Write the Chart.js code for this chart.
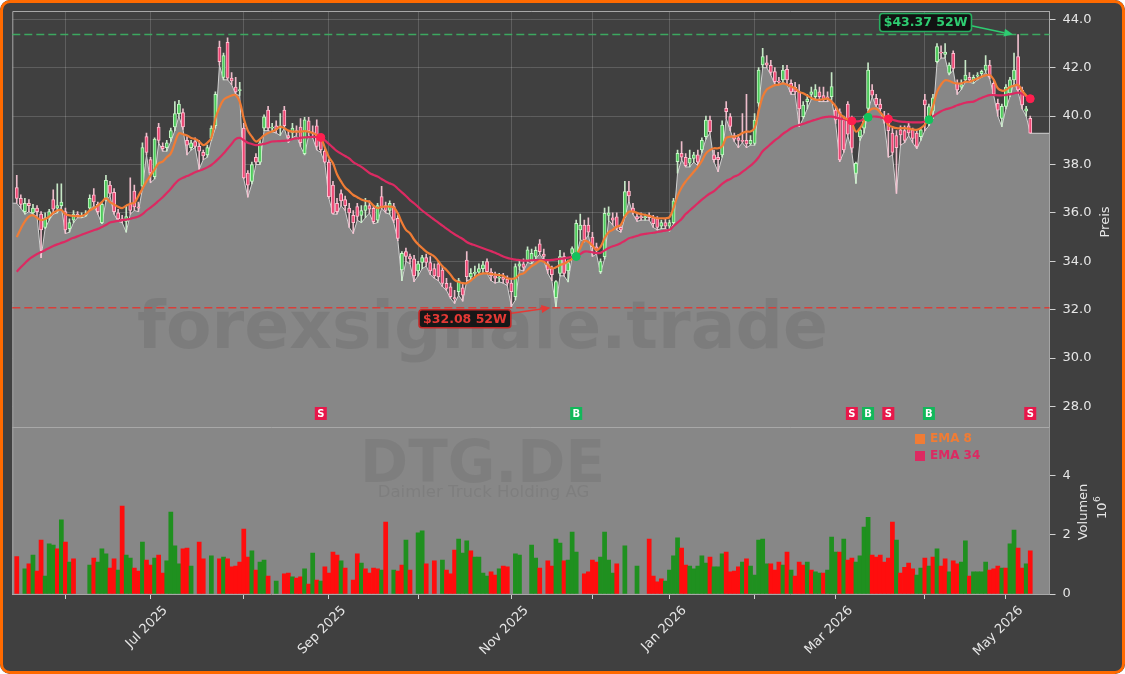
<!DOCTYPE html>
<html><head><meta charset="utf-8">
<script src="https://cdn.jsdelivr.net/npm/chart.js@4.4.1/dist/chart.umd.min.js"></script>
<style>
html,body{margin:0;padding:0;background:#ffffff;}
#wrap{position:relative;width:1125px;height:674px;background:#404040;overflow:hidden;border-radius:10px;}
#frame{position:absolute;left:0;top:0;width:1125px;height:674px;box-sizing:border-box;border:3px solid #ff6a00;border-radius:10px;pointer-events:none;}
canvas{position:absolute;left:0;top:0;}
</style></head>
<body><div id="wrap"><canvas id="c" width="1125" height="674"></canvas><div id="frame"></div></div>
<script>
// ---------- data ----------
const OPEN = [37.05,36.6,36.05,36.4,36.0,36.2,35.95,35.4,35.8,36.55,
36.2,36.3,36.05,35.35,35.7,35.95,35.85,35.9,36.2,36.75,
36.35,35.6,36.6,37.15,36.85,36.0,35.75,35.65,36.35,36.9,
36.25,37.1,39.15,38.2,37.5,39.55,38.75,38.7,39.1,39.55,
40.1,40.15,39.0,38.7,38.95,38.75,38.5,38.4,39.1,39.6,
42.85,41.6,43.05,41.57,41.2,41.05,39.5,37.65,37.3,38.3,
38.1,39.5,40.25,39.5,39.6,39.5,40.25,39.2,39.3,39.4,
39.55,38.45,39.8,39.35,39.6,39.0,38.55,38.1,37.15,36.4,
36.8,36.55,36.2,35.9,36.26,35.9,36.1,36.3,36.19,35.7,
36.67,36.3,36.1,36.26,35.78,33.64,34.4,34.2,34.1,33.6,
33.95,34.15,33.95,33.7,33.9,33.64,33.09,32.95,32.5,32.74,
32.9,34.05,33.35,33.5,33.55,33.7,33.99,33.55,33.4,33.3,
33.35,33.25,33.1,32.54,33.8,33.9,34.05,34.0,34.2,34.72,
34.3,33.9,33.7,32.5,33.5,34.19,33.6,34.33,34.19,35.3,
35.5,35.5,35.0,34.6,33.57,34.19,35.9,35.8,35.84,35.4,
35.85,36.9,36.2,35.85,35.85,35.8,35.9,35.8,35.75,35.45,
35.6,35.45,35.6,38.12,38.46,38.3,38.05,38.25,38.4,38.6,
39.15,39.84,38.4,38.3,38.4,40.32,39.98,39.2,39.1,39.0,
39.0,38.85,38.87,40.53,42.11,42.2,42.1,41.84,41.45,41.49,
41.93,41.35,41.2,41.0,39.98,40.6,40.9,40.8,41.0,40.85,
40.8,40.8,40.25,40.18,39.84,40.5,39.84,37.63,39.15,39.5,
40.32,41.08,40.73,40.5,40.0,39.9,39.3,39.2,39.43,39.4,
39.6,39.43,39.3,39.15,40.67,39.7,40.2,42.25,42.65,42.55,
41.77,42.59,41.35,41.2,41.5,41.6,41.5,41.65,41.75,41.9,
42.11,41.35,40.53,39.9,40.4,40.95,41.5,42.46,41.08,40.2,
39.91];
const HIGH = [37.55,36.75,36.6,36.55,36.35,36.3,36.05,36.0,36.15,36.95,
37.2,37.2,36.2,35.75,36.1,36.05,36.0,36.1,36.75,37.0,
36.45,36.45,37.55,37.3,37.0,36.15,35.9,36.3,37.45,37.15,
36.45,38.9,39.3,38.3,39.1,39.7,38.9,39.0,39.5,40.6,
40.65,40.3,39.15,39.0,39.1,39.0,38.6,38.8,39.6,41.0,
43.1,42.6,43.23,41.8,41.6,41.4,39.7,37.75,38.1,38.45,
39.0,40.05,40.4,39.7,39.8,40.1,40.4,39.4,39.7,39.6,
39.9,39.95,39.95,39.6,39.85,39.2,38.65,38.2,37.3,36.6,
36.95,36.7,36.4,36.1,36.4,36.3,36.6,36.5,36.3,36.4,
37.1,36.45,36.5,36.4,35.9,34.4,34.55,34.3,34.25,34.0,
34.25,34.3,34.2,33.9,34.0,33.8,33.3,33.1,32.8,33.3,
33.1,34.4,33.7,33.8,33.9,34.0,34.1,33.7,33.55,33.5,
33.5,33.4,33.3,33.9,34.0,34.1,34.6,34.5,34.6,34.9,
34.5,34.0,33.8,33.2,34.45,34.35,34.05,34.6,35.7,35.95,
35.7,35.8,35.2,34.75,34.1,36.2,36.25,36.0,36.0,35.5,
37.3,37.3,36.4,36.0,36.0,35.95,36.0,35.9,35.85,35.7,
35.75,35.7,36.6,38.6,38.95,38.45,38.6,38.5,38.6,39.1,
40.0,40.0,38.6,38.5,39.8,40.6,40.1,39.3,39.25,40.1,
40.9,39.2,40.1,42.0,42.8,42.5,42.3,42.0,41.6,42.1,
42.1,41.5,41.4,41.3,40.6,40.9,41.2,41.3,41.2,41.2,
41.0,41.8,40.4,40.3,40.0,40.6,40.0,38.1,39.5,40.0,
42.2,41.3,40.9,40.7,40.2,40.1,39.5,39.4,39.6,39.6,
39.7,39.5,39.4,39.5,40.9,40.5,40.9,43.0,42.9,43.0,
42.2,42.7,41.5,41.5,42.3,41.8,41.7,41.8,41.9,42.5,
42.3,41.5,40.7,40.5,41.3,41.6,42.6,43.37,41.2,40.4,
40.0];
const LOW = [36.4,36.2,35.95,36.05,35.95,35.85,34.15,35.35,35.7,35.95,
36.0,36.25,35.15,35.2,35.6,35.8,35.8,35.85,36.1,36.3,
35.95,35.55,36.5,36.7,35.95,35.65,35.6,35.2,35.95,36.1,
36.05,37.0,38.4,37.25,37.4,38.9,38.55,38.55,38.95,39.4,
40.0,39.45,38.4,38.6,38.7,37.8,38.2,38.3,39.0,39.5,
42.1,41.5,41.5,41.3,40.9,40.85,37.4,36.65,37.2,38.0,
38.0,39.4,39.4,39.35,39.3,39.2,39.5,38.9,39.1,39.2,
38.75,38.4,39.2,39.1,38.6,38.5,38.05,36.6,35.95,35.95,
36.3,36.1,35.4,35.15,35.7,35.6,35.8,36.0,35.55,35.6,
36.2,36.0,35.95,35.6,34.85,33.2,34.0,33.9,33.16,33.4,
33.7,33.8,33.45,33.3,33.2,32.95,32.8,32.47,32.26,32.6,
32.35,33.2,33.25,33.35,33.45,33.5,33.5,33.2,33.1,33.15,
33.1,33.0,32.13,32.4,33.65,33.6,33.95,33.9,34.1,34.3,
34.05,33.5,33.2,32.08,33.4,33.4,33.15,34.2,34.1,34.9,
34.8,35.1,34.2,34.3,33.5,34.1,35.7,35.5,35.3,35.2,
35.8,36.5,35.95,35.65,35.7,35.7,35.7,35.4,35.3,35.35,
35.35,35.25,35.55,37.64,38.2,37.9,37.9,38.1,37.95,38.5,
39.05,39.3,38.1,37.7,38.3,39.9,39.4,38.95,38.7,38.9,
38.7,38.8,38.8,40.4,42.0,42.0,41.7,41.3,41.3,41.4,
41.3,40.9,40.9,39.56,39.9,40.3,40.7,40.7,40.6,40.6,
40.6,40.7,39.7,38.12,38.5,39.2,38.5,37.22,39.0,39.3,
40.2,40.8,40.4,40.2,39.7,38.3,38.4,36.81,38.8,38.9,
39.2,38.9,38.65,39.0,39.4,39.6,39.9,42.2,42.4,42.4,
41.7,41.9,40.9,41.1,41.4,41.4,41.35,41.5,41.6,41.8,
41.55,40.85,40.0,39.56,40.3,40.8,41.4,41.0,40.3,40.0,
39.29];
const CLOSE = [36.6,36.35,36.4,36.3,36.2,36.05,35.3,35.8,36.05,36.15,
36.3,36.45,35.3,35.6,35.95,35.85,35.9,35.95,36.6,36.45,
36.05,36.35,37.35,36.8,36.05,35.75,35.7,35.85,36.1,36.25,
36.2,38.7,38.5,37.65,39.05,39.0,38.65,38.9,39.4,40.1,
40.5,39.55,38.8,38.9,38.75,38.55,38.35,38.7,39.5,40.9,
42.25,42.5,41.57,41.45,41.0,41.1,37.45,37.15,38.0,38.1,
38.9,39.97,39.5,39.55,39.45,39.6,39.6,39.1,39.5,39.35,
38.9,39.85,39.4,39.3,38.75,38.6,38.1,36.67,35.98,36.05,
36.5,36.3,36.0,35.6,35.85,36.1,36.3,36.15,35.64,36.3,
36.26,36.1,36.4,35.7,34.95,34.33,34.2,34.1,33.4,33.9,
34.15,33.95,33.6,33.4,33.35,33.09,32.88,32.54,32.45,33.2,
32.6,33.37,33.5,33.55,33.7,33.85,33.57,33.4,33.3,33.35,
33.25,33.1,32.75,33.78,33.9,33.75,34.47,34.33,34.45,34.4,
34.2,33.64,33.45,33.16,34.19,33.5,33.95,34.53,35.57,35.5,
34.88,35.2,34.6,34.45,33.99,35.98,36.0,35.7,35.36,35.3,
36.88,36.7,36.05,35.75,35.8,35.85,35.8,35.55,35.4,35.6,
35.45,35.6,36.5,38.46,38.3,37.95,38.25,38.4,38.1,39.0,
39.84,39.36,38.2,38.2,39.63,40.18,39.57,39.05,39.0,38.95,
38.85,39.0,39.84,41.9,42.46,42.1,41.8,41.42,41.4,41.9,
41.49,41.0,41.0,40.3,40.46,40.7,41.0,41.1,40.8,40.7,
40.75,41.22,39.84,38.19,38.6,39.25,38.67,38.05,39.43,39.9,
41.9,40.87,40.46,40.3,39.84,39.4,38.5,38.7,39.22,39.0,
39.3,39.08,38.75,39.43,40.46,40.39,40.75,42.87,42.6,42.65,
42.11,41.97,41.08,41.3,41.7,41.5,41.6,41.7,41.85,42.11,
41.63,40.9,40.25,40.4,41.2,41.5,41.9,41.08,40.46,40.3,
39.29];
const EMA8 = [35.0,35.35,35.65,35.85,35.9,35.8,35.7,35.75,35.85,36.0,
36.1,36.12,35.95,35.9,35.88,35.87,35.87,35.95,36.1,36.2,
36.3,36.45,36.6,36.45,36.35,36.25,36.2,36.3,36.38,36.42,
36.7,37.0,37.3,37.55,37.8,38.05,38.12,38.3,38.46,38.9,
39.29,39.25,39.2,39.1,39.05,38.95,38.8,38.9,39.1,39.9,
40.35,40.67,40.78,40.85,40.87,40.6,39.9,39.4,39.15,38.95,
39.05,39.2,39.3,39.36,39.45,39.56,39.5,39.4,39.36,39.36,
39.36,39.38,39.36,39.3,39.22,39.1,38.7,38.3,38.05,37.6,
37.3,37.05,36.9,36.74,36.65,36.55,36.5,36.46,36.3,36.2,
36.25,36.26,36.26,36.22,35.98,35.6,35.3,35.16,34.9,34.7,
34.55,34.4,34.3,34.2,34.0,33.8,33.64,33.45,33.23,33.15,
33.1,33.1,33.2,33.35,33.45,33.5,33.5,33.48,33.45,33.43,
33.4,33.3,33.28,33.3,33.45,33.5,33.65,33.8,33.9,34.02,
33.98,33.85,33.71,33.75,33.85,33.9,34.0,34.1,34.25,34.55,
34.85,34.8,34.65,34.47,34.6,34.95,35.2,35.3,35.43,35.5,
35.85,36.05,36.05,36.0,35.95,35.92,35.88,35.82,35.78,35.78,
35.78,35.82,36.2,36.7,37.05,37.3,37.5,37.7,37.9,38.15,
38.46,38.6,38.67,38.67,38.75,39.1,39.15,39.15,39.2,39.3,
39.36,39.36,39.5,40.2,40.8,41.1,41.2,41.28,41.3,41.35,
41.3,41.22,41.15,41.0,40.94,40.85,40.75,40.68,40.67,40.7,
40.72,40.6,40.4,40.1,39.95,39.85,39.7,39.36,39.5,39.8,
40.15,40.3,40.3,40.15,39.95,39.63,39.55,39.5,39.5,39.5,
39.48,39.45,39.43,39.5,39.65,39.91,40.4,41.0,41.3,41.48,
41.45,41.38,41.35,41.35,41.42,41.42,41.48,41.55,41.63,41.68,
41.7,41.5,41.15,41.05,41.08,41.2,41.25,41.29,41.05,40.85,
40.62];
const EMA34 = [33.57,33.75,33.92,34.08,34.2,34.3,34.38,34.46,34.55,34.63,
34.7,34.76,34.82,34.9,34.97,35.03,35.1,35.16,35.22,35.28,
35.34,35.42,35.5,35.6,35.64,35.67,35.7,35.72,35.76,35.8,
35.85,35.95,36.1,36.22,36.35,36.5,36.65,36.82,37.0,37.2,
37.36,37.45,37.52,37.6,37.68,37.74,37.8,37.88,37.98,38.12,
38.28,38.45,38.65,38.85,39.05,39.1,39.0,38.9,38.85,38.8,
38.82,38.85,38.9,38.95,38.96,38.97,38.98,39.0,39.05,39.08,
39.1,39.12,39.13,39.14,39.14,39.12,39.0,38.85,38.7,38.55,
38.45,38.35,38.25,38.1,38.0,37.9,37.78,37.65,37.57,37.5,
37.4,37.3,37.22,37.15,37.0,36.85,36.7,36.53,36.4,36.25,
36.1,35.97,35.85,35.72,35.6,35.47,35.35,35.23,35.12,35.02,
34.92,34.8,34.72,34.66,34.6,34.54,34.48,34.42,34.35,34.28,
34.2,34.14,34.1,34.07,34.05,34.03,34.03,34.04,34.05,34.05,
34.05,34.05,34.06,34.08,34.1,34.12,34.15,34.18,34.2,34.3,
34.4,34.4,34.37,34.34,34.35,34.45,34.55,34.62,34.67,34.75,
34.85,34.95,35.0,35.05,35.1,35.13,35.16,35.18,35.21,35.24,
35.27,35.3,35.45,35.6,35.75,35.95,36.1,36.25,36.4,36.55,
36.68,36.8,36.9,37.05,37.2,37.32,37.4,37.5,37.57,37.7,
37.82,37.95,38.1,38.3,38.55,38.7,38.85,39.0,39.12,39.27,
39.38,39.5,39.58,39.63,39.68,39.74,39.8,39.85,39.9,39.95,
39.97,39.98,39.95,39.9,39.86,39.83,39.8,39.78,39.8,39.88,
39.95,39.98,39.98,39.95,39.9,39.88,39.85,39.8,39.77,39.76,
39.75,39.74,39.74,39.74,39.78,39.85,39.98,40.1,40.2,40.27,
40.32,40.38,40.45,40.5,40.55,40.58,40.6,40.68,40.75,40.82,
40.87,40.87,40.86,40.86,40.87,40.9,40.94,40.97,40.92,40.82,
40.72];
// volume in millions (null = no bar)
const VOLUME = [1.27,null,0.85,1.02,1.32,0.78,1.83,0.61,1.7,1.66,
1.53,2.51,1.76,1.08,1.19,null,null,null,0.98,1.22,
1.08,1.53,1.36,0.88,1.19,0.81,2.98,1.32,1.22,0.88,
0.78,1.76,1.15,0.98,1.22,1.32,0.71,1.12,2.78,1.63,
1.02,1.53,1.56,0.95,null,1.76,1.19,null,1.29,null,
1.19,1.25,1.19,0.92,0.95,1.08,2.2,1.25,1.46,0.81,
1.08,1.15,0.61,null,0.44,null,0.68,0.71,0.58,0.54,
0.58,0.85,0.34,1.39,0.47,0.44,0.92,0.71,1.42,1.32,
1.12,0.88,null,0.47,1.36,1.05,0.85,0.71,0.88,0.85,
0.81,2.44,null,0.81,0.78,0.98,1.83,0.81,null,2.07,
2.14,1.02,null,1.12,null,1.15,0.81,0.68,1.49,1.86,
1.39,1.8,1.46,1.25,1.25,0.71,0.61,0.75,0.64,0.85,
0.95,0.92,null,1.36,1.32,null,null,1.66,1.22,0.88,
null,1.12,0.95,1.86,1.73,1.12,1.15,2.1,1.42,null,
0.68,0.75,1.15,1.08,1.25,2.1,1.15,0.71,1.02,null,
1.63,null,null,0.95,null,null,1.86,0.61,0.41,0.51,
0.44,0.81,1.29,1.9,1.56,0.98,0.95,0.85,0.95,1.29,
1.05,1.25,0.92,0.92,1.36,1.42,0.75,0.78,0.92,1.08,
1.19,0.95,0.64,1.83,1.86,1.02,1.02,0.81,1.08,0.98,
1.42,0.81,0.61,1.08,0.98,1.08,0.81,0.75,0.71,0.71,
0.81,1.93,1.42,1.42,1.86,1.15,1.22,1.08,1.29,2.27,
2.6,1.32,1.25,1.32,1.08,1.22,2.44,1.83,0.71,0.9,
1.05,0.85,0.64,0.88,1.22,0.95,1.25,1.53,0.95,1.19,
0.75,1.12,1.02,1.08,1.8,0.61,0.75,0.75,0.75,1.08,
0.81,0.85,0.95,0.88,0.88,1.7,2.17,1.56,0.88,1.02,
1.46];
// volume bar colour: g = green, r = red, - = none
const VOL_DIR = 'r-grgrrggg' + 'rgrgr---gr' + 'gggrrgrggr' + 'rgrrgrrggg' + 'grrg-rr-g-' +
  'rgrrrrrrgr' + 'ggr-g-rrgr' + 'rgrgrgrrrr' + 'gr-rrgrrrr' + 'gr-grrgr-g' +
  'gr-r-grrrg' + 'ggrggggrrg' + 'rr-gg--ggr' + '-rrggrggg-' + 'rrrrggggr-' +
  'g--g--rrrr' + 'ggggrrgggg' + 'grgggrrrrg' + 'rgggggrrrg' + 'rgrrrgrggr' +
  'gggrgrrggg' + 'grrrrrrgrr' + 'rrggrgrgrr' + 'grrggrgggg' + 'rrrgrggrrg' + 'r';
const SELL_IDX = [75, 206, 215, 250];
const BUY_IDX = [138, 210, 225];
const HIGH_52W = 43.37, HIGH_52W_IDX = 247;
const LOW_52W = 32.08, LOW_52W_IDX = 133;
// month-start trading-day positions and their tick labels
const MONTH_IDX = [12, 33, 56, 77, 99, 122, 142, 161, 182, 202, 224, 244];
const MONTH_LABELS = ['', 'Jul 2025', '', 'Sep 2025', '', 'Nov 2025', '', 'Jan 2026', '', 'Mar 2026', '', 'May 2026'];
const PRICE_TICKS = [28, 30, 32, 34, 36, 38, 40, 42, 44];
const VOL_TICKS = [0, 2, 4];
const TICKER = 'DTG.DE', COMPANY = 'Daimler Truck Holding AG', WATERMARK = 'forexsignale.trade';

// ---------- styling / layout ----------
const X_MIN = -1.1, X_MAX = 254.75;
const Y_MIN = 27.153, Y_MAX = 44.343, V_MAX = 5.66;
const TXT = '#e6e6e6', GRID = 'rgba(255,255,255,0.16)', FRAME = '#a8a8a8';
const PANEL = '#878787';
const C_EMA8 = '#f07c35', C_EMA34 = '#dc2a62';
const FONT = "'DejaVu Sans', sans-serif";
Chart.defaults.font.family = FONT;
Chart.defaults.font.size = 13;
Chart.defaults.color = TXT;

const xs = CLOSE.map((_, i) => i);
const isUp = xs.map(i => CLOSE[i] >= OPEN[i]);
// low line used for the grey area, held flat out to both plot edges
const areaData = [{x: X_MIN, y: LOW[0]}].concat(xs.map(i => ({x: i, y: LOW[i]})), [{x: X_MAX, y: LOW[LOW.length - 1]}]);
const volIdx = xs.filter(i => VOLUME[i] !== null);

function rrect(ctx, x, y, w, h, r) {
  ctx.beginPath(); ctx.moveTo(x + r, y);
  ctx.arcTo(x + w, y, x + w, y + h, r); ctx.arcTo(x + w, y + h, x, y + h, r);
  ctx.arcTo(x, y + h, x, y, r); ctx.arcTo(x, y, x + w, y, r); ctx.closePath();
}
function arrow(ctx, x1, y1, x2, y2, color) {
  const a = Math.atan2(y2 - y1, x2 - x1), L = 9, W = 4;
  const bx = x2 - L * Math.cos(a), by = y2 - L * Math.sin(a);
  ctx.strokeStyle = color; ctx.fillStyle = color; ctx.lineWidth = 1.6; ctx.setLineDash([]);
  ctx.beginPath(); ctx.moveTo(x1, y1); ctx.lineTo(bx, by); ctx.stroke();
  ctx.beginPath(); ctx.moveTo(x2, y2);
  ctx.lineTo(bx - W * Math.sin(a), by + W * Math.cos(a));
  ctx.lineTo(bx + W * Math.sin(a), by - W * Math.cos(a)); ctx.closePath(); ctx.fill();
}
function tag(ctx, cx, cy, text, fg, border) {
  ctx.font = 'bold 12.5px ' + FONT;
  const w = ctx.measureText(text).width + 8, h = 18;
  rrect(ctx, cx - w / 2, cy - h / 2, w, h, 3);
  ctx.fillStyle = 'rgba(14,14,14,0.92)'; ctx.fill();
  ctx.lineWidth = 1.6; ctx.strokeStyle = border; ctx.setLineDash([]); ctx.stroke();
  ctx.fillStyle = fg; ctx.textAlign = 'center'; ctx.textBaseline = 'middle';
  ctx.fillText(text, cx, cy + 0.5);
}
function fitSize(ctx, text, weight, width) {
  ctx.font = weight + ' 100px ' + FONT;
  return 100 * width / ctx.measureText(text).width;
}
function noPad(s) { s.paddingTop = 0; s.paddingBottom = 0; s.paddingLeft = 0; s.paddingRight = 0; }

const decor = {
  id: 'decor',
  beforeDatasetsDraw(chart) {
    const {ctx, scales: {x, v}} = chart;
    ctx.save();
    ctx.fillStyle = PANEL;
    ctx.fillRect(x.left, v.top, x.right - x.left, v.bottom - v.top);
    ctx.restore();
  },
  afterDatasetDraw(chart, args) {
    if (args.index !== 0) return;
    const {ctx} = chart;
    ctx.save();
    ctx.textAlign = 'center'; ctx.textBaseline = 'alphabetic';
    let s = fitSize(ctx, WATERMARK, 'bold', 691);
    ctx.font = 'bold ' + s + 'px ' + FONT; ctx.fillStyle = 'rgba(0,0,0,0.08)';
    ctx.fillText(WATERMARK, 482.5, 348);
    s = fitSize(ctx, TICKER, 'bold', 245);
    ctx.font = 'bold ' + s + 'px ' + FONT; ctx.fillStyle = 'rgba(0,0,0,0.065)';
    ctx.fillText(TICKER, 482.5, 482);
    s = fitSize(ctx, COMPANY, 'normal', 212);
    ctx.font = s + 'px ' + FONT; ctx.fillStyle = 'rgba(0,0,0,0.065)';
    ctx.fillText(COMPANY, 483.5, 497);
    ctx.restore();
  },
  afterDatasetsDraw(chart) {
    const {ctx, scales: {x, y, v}} = chart;
    ctx.save();
    // panel frames
    ctx.strokeStyle = FRAME; ctx.lineWidth = 1;
    ctx.beginPath();
    ctx.moveTo(x.left + 0.5, v.bottom); ctx.lineTo(x.left + 0.5, y.top + 0.5); ctx.lineTo(x.right, y.top + 0.5);
    ctx.moveTo(x.left, y.bottom + 0.5); ctx.lineTo(x.right, y.bottom + 0.5);
    ctx.stroke();
    // 52W lines
    ctx.lineWidth = 1.5; ctx.setLineDash([8, 4]);
    let yy = y.getPixelForValue(HIGH_52W);
    ctx.strokeStyle = 'rgba(60,180,100,0.9)';
    ctx.beginPath(); ctx.moveTo(x.left, yy); ctx.lineTo(x.right, yy); ctx.stroke();
    yy = y.getPixelForValue(LOW_52W);
    ctx.strokeStyle = 'rgba(225,55,50,0.9)';
    ctx.beginPath(); ctx.moveTo(x.left, yy); ctx.lineTo(x.right, yy); ctx.stroke();
    ctx.setLineDash([]);
    // 52W tags
    let tx = x.getPixelForValue(HIGH_52W_IDX) - 5, ty = y.getPixelForValue(HIGH_52W);
    arrow(ctx, tx - 43, ty - 9, tx, ty, '#2ecc71');
    tag(ctx, tx - 87.5, ty - 12, '$' + HIGH_52W.toFixed(2) + ' 52W', '#2ecc71', '#27ae60');
    tx = x.getPixelForValue(LOW_52W_IDX) - 5.5; ty = y.getPixelForValue(LOW_52W);
    arrow(ctx, tx - 39, ty + 5.5, tx, ty, '#e53935');
    tag(ctx, tx - 85.5, ty + 11, '$' + LOW_52W.toFixed(2) + ' 52W', '#e53935', '#c62828');
    // signal markers
    const my = y.bottom - 13.5;
    const mark = (i, letter, col) => {
      const mx = x.getPixelForValue(i);
      ctx.fillStyle = col; ctx.fillRect(mx - 6, my - 6.5, 12, 13);
      ctx.fillStyle = '#ffffff'; ctx.font = 'bold 10px ' + FONT;
      ctx.textAlign = 'center'; ctx.textBaseline = 'middle';
      ctx.fillText(letter, mx, my + 0.5);
    };
    SELL_IDX.forEach(i => mark(i, 'S', '#e8174a'));
    BUY_IDX.forEach(i => mark(i, 'B', '#12b85a'));
    // legend
    ctx.font = 'bold 12px ' + FONT; ctx.textAlign = 'left'; ctx.textBaseline = 'middle';
    ctx.fillStyle = C_EMA8; ctx.fillRect(915, 434, 10, 10); ctx.fillText('EMA 8', 930, 439);
    ctx.fillStyle = C_EMA34; ctx.fillRect(915, 451, 10, 10); ctx.fillText('EMA 34', 930, 456);
    ctx.restore();
  },
  afterDraw(chart) {
    const {ctx, scales: {y}} = chart;
    ctx.save();
    ctx.fillStyle = TXT; ctx.textAlign = 'center'; ctx.textBaseline = 'middle';
    ctx.font = '13px ' + FONT;
    ctx.translate(1106, (y.top + y.bottom) / 2 + 3); ctx.rotate(-Math.PI / 2);
    ctx.fillText('Preis', 0, 0);
    ctx.restore();
    ctx.save();
    ctx.fillStyle = TXT; ctx.textAlign = 'center'; ctx.textBaseline = 'middle';
    ctx.font = '13px ' + FONT;
    ctx.translate(1084, 512); ctx.rotate(-Math.PI / 2);
    ctx.fillText('Volumen', 0, 0);
    ctx.restore();
    ctx.save();
    ctx.fillStyle = TXT; ctx.textBaseline = 'middle';
    ctx.translate(1103, 508); ctx.rotate(-Math.PI / 2);
    ctx.font = '13px ' + FONT; ctx.textAlign = 'left';
    const w10 = ctx.measureText('10').width;
    ctx.fillText('10', -11, 0);
    ctx.font = '9px ' + FONT; ctx.fillText('6', -11 + w10 + 0.5, -5);
    ctx.restore();
  }
};

new Chart(document.getElementById('c'), {
  type: 'bar',
  data: {
    datasets: [
      { type: 'line', label: 'low', data: areaData, yAxisID: 'y', fill: 'start',
        backgroundColor: PANEL, borderColor: '#d2d2d2', borderWidth: 1, pointRadius: 0, tension: 0, order: 10 },
      { type: 'bar', label: 'Volumen', data: volIdx.map(i => ({x: i, y: VOLUME[i]})), yAxisID: 'v', grouped: false,
        backgroundColor: volIdx.map(i => VOL_DIR[i] === 'g' ? '#1f901f' : '#ff0d0d'),
        barPercentage: 1, categoryPercentage: 1, order: 9 },
      { type: 'bar', label: 'wick', data: xs.map(i => ({x: i, y: [LOW[i], HIGH[i]]})), yAxisID: 'y', grouped: false,
        backgroundColor: xs.map(i => isUp[i] ? 'rgba(205,240,205,0.95)' : 'rgba(245,195,210,0.95)'),
        barThickness: 1, order: 8 },
      { type: 'bar', label: 'body', data: xs.map(i => ({x: i, y: [OPEN[i], CLOSE[i]]})), yAxisID: 'y', grouped: false,
        backgroundColor: xs.map(i => isUp[i] ? '#4cc95a' : '#ec4673'),
        borderColor: xs.map(i => isUp[i] ? '#c6f6c6' : '#ffbfd0'),
        borderWidth: 1, borderSkipped: false, barThickness: 3.2, minBarLength: 1, order: 7 },
      { type: 'line', label: 'EMA 34', data: xs.map(i => ({x: i, y: EMA34[i]})), yAxisID: 'y',
        borderColor: C_EMA34, borderWidth: 2.2, pointRadius: 0, tension: 0.4, fill: false, order: 5 },
      { type: 'line', label: 'EMA 8', data: xs.map(i => ({x: i, y: EMA8[i]})), yAxisID: 'y',
        borderColor: C_EMA8, borderWidth: 2.2, pointRadius: 0, tension: 0.4, fill: false, order: 4 },
      { type: 'scatter', label: 'sell', data: SELL_IDX.map(i => ({x: i, y: EMA34[i]})), yAxisID: 'y',
        backgroundColor: '#ff1f4f', borderColor: '#ff1f4f', pointRadius: 4, order: 1 },
      { type: 'scatter', label: 'buy', data: BUY_IDX.map(i => ({x: i, y: EMA34[i]})), yAxisID: 'y',
        backgroundColor: '#13c25c', borderColor: '#13c25c', pointRadius: 4, order: 1 }
    ]
  },
  options: {
    responsive: false, animation: false, devicePixelRatio: 1,
    layout: { padding: { left: 12.3, top: 11, right: 0, bottom: 0 } },
    plugins: { legend: { display: false }, tooltip: { enabled: false } },
    scales: {
      x: {
        type: 'linear', position: 'bottom', min: X_MIN, max: X_MAX, offset: false,
        afterBuildTicks: s => { s.ticks = MONTH_IDX.map(v => ({value: v})); },
        afterFit: s => { s.height = 80; noPad(s); },
        grid: { offset: false, color: GRID, tickColor: '#d0d0d0', tickLength: 5, drawTicks: true },
        border: { color: FRAME },
        ticks: { autoSkip: false, minRotation: 45, maxRotation: 45, labelOffset: 15, padding: 4,
                 color: TXT, font: { size: 13 }, callback: (val, i) => MONTH_LABELS[i] }
      },
      y: {
        type: 'linear', position: 'right', stack: 'panels', stackWeight: 416, min: Y_MIN, max: Y_MAX,
        afterBuildTicks: s => { s.ticks = PRICE_TICKS.map(v => ({value: v})); },
        afterFit: s => { s.width = 75.5; noPad(s); },
        grid: { color: GRID, tickColor: '#d0d0d0', tickLength: 6 },
        border: { color: FRAME },
        ticks: { padding: 7, color: TXT, font: { size: 13 }, callback: v => v.toFixed(1) }
      },
      v: {
        type: 'linear', position: 'right', stack: 'panels', stackWeight: 167, min: 0, max: V_MAX,
        afterBuildTicks: s => { s.ticks = VOL_TICKS.map(v => ({value: v})); },
        afterFit: s => { s.width = 75.5; noPad(s); },
        grid: { drawOnChartArea: false, tickColor: '#d0d0d0', tickLength: 6 },
        border: { color: FRAME },
        ticks: { padding: 7, color: TXT, font: { size: 13 }, callback: v => String(v) }
      }
    }
  },
  plugins: [decor]
});
</script></body></html>
